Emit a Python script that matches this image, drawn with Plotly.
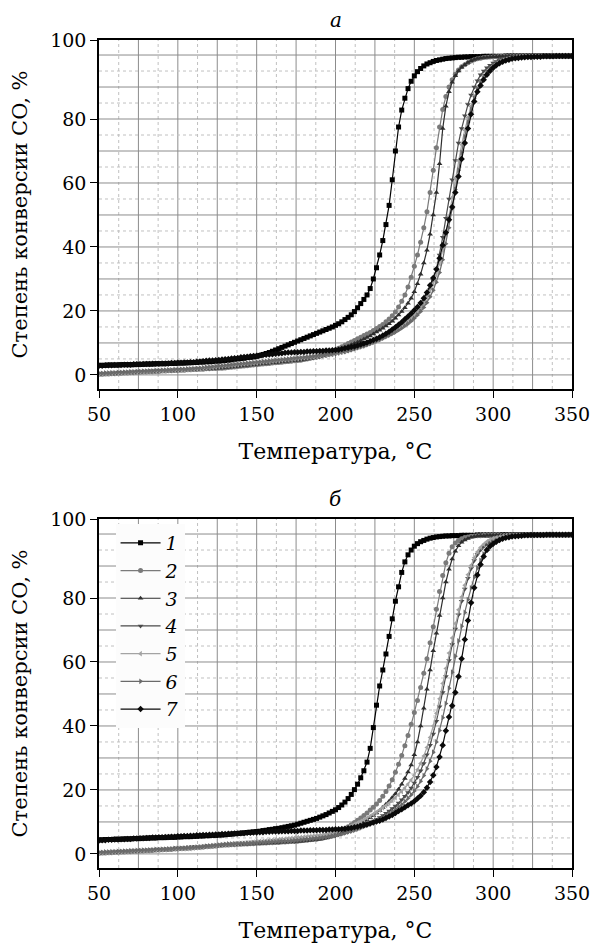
import plotly.graph_objects as go

# ---------------- data ----------------
temperature = list(range(50, 351, 2))  # °C, 151 points
series_labels = ["1", "2", "3", "4", "5", "6", "7"]

# ---- panel а ----
a1 = [3.0,3.0,3.0,3.1,3.1,3.1,3.1,3.2,3.2,3.2,
      3.2,3.2,3.3,3.3,3.3,3.4,3.4,3.4,3.5,3.5,
      3.5,3.5,3.6,3.6,3.6,3.7,3.7,3.7,3.8,3.8,
      3.9,3.9,4.0,4.0,4.1,4.1,4.2,4.3,4.3,4.4,
      4.5,4.6,4.7,4.9,5.0,5.1,5.2,5.4,5.5,5.6,
      5.8,6.1,6.4,6.7,7.0,7.4,7.8,8.2,8.6,9.0,
      9.4,9.8,10.2,10.6,11.0,11.4,11.8,12.2,12.6,13.0,
      13.4,13.8,14.2,14.6,15.0,15.5,16.0,16.6,17.3,18.0,
      18.8,19.8,21.0,22.3,23.6,25.0,27.0,30.0,33.5,37.5,
      42.0,47.0,53.0,61.0,70.0,77.5,82.8,86.5,89.5,91.8,
      93.5,94.8,95.8,96.6,97.2,97.6,98.0,98.3,98.5,98.7,
      98.9,99.0,99.1,99.2,99.3,99.3,99.4,99.4,99.5,99.5,
      99.5,99.5,99.6,99.6,99.6,99.6,99.6,99.6,99.6,99.7,
      99.7,99.7,99.7,99.7,99.7,99.7,99.7,99.7,99.7,99.7,
      99.7,99.7,99.7,99.7,99.7,99.7,99.7,99.7,99.7,99.7,
      99.7]
a2 = [0.2,0.2,0.3,0.3,0.4,0.4,0.5,0.5,0.6,0.6,
      0.7,0.7,0.8,0.8,0.9,0.9,1.0,1.0,1.1,1.1,
      1.2,1.2,1.3,1.3,1.4,1.4,1.5,1.5,1.6,1.6,
      1.7,1.7,1.8,1.8,1.9,1.9,2.0,2.0,2.1,2.1,
      2.2,2.3,2.4,2.5,2.6,2.7,2.8,2.9,3.0,3.1,
      3.2,3.3,3.4,3.5,3.6,3.7,3.8,3.9,4.0,4.1,
      4.2,4.3,4.4,4.5,4.6,4.8,5.0,5.2,5.4,5.6,
      5.9,6.2,6.5,6.9,7.3,7.8,8.3,8.8,9.3,9.8,
      10.3,10.8,11.3,11.8,12.3,12.8,13.3,13.9,14.5,15.1,
      15.8,16.6,17.5,18.5,19.7,21.2,23.0,25.0,27.5,30.5,
      34.0,37.5,41.5,46.0,51.0,57.0,64.0,71.0,77.5,83.0,
      87.0,90.0,92.3,94.0,95.3,96.3,97.0,97.6,98.1,98.5,
      98.8,99.0,99.2,99.3,99.4,99.5,99.5,99.6,99.6,99.6,
      99.6,99.6,99.7,99.7,99.7,99.7,99.7,99.7,99.7,99.7,
      99.7,99.7,99.7,99.7,99.7,99.7,99.7,99.7,99.7,99.7,
      99.7]
a3 = [0.3,0.3,0.4,0.4,0.5,0.5,0.6,0.6,0.7,0.7,
      0.8,0.8,0.9,0.9,1.0,1.0,1.1,1.1,1.2,1.2,
      1.3,1.3,1.4,1.4,1.5,1.5,1.6,1.6,1.7,1.7,
      1.8,1.8,1.9,1.9,2.0,2.0,2.1,2.1,2.2,2.2,
      2.3,2.4,2.5,2.6,2.7,2.8,2.9,3.0,3.1,3.2,
      3.3,3.4,3.5,3.6,3.7,3.8,3.9,4.0,4.1,4.2,
      4.3,4.4,4.5,4.6,4.7,4.8,5.0,5.2,5.4,5.6,
      5.8,6.1,6.4,6.7,7.0,7.4,7.8,8.2,8.6,9.0,
      9.4,9.8,10.2,10.7,11.2,11.7,12.2,12.8,13.4,14.0,
      14.6,15.3,16.0,16.8,17.7,18.7,19.8,21.0,22.4,24.0,
      26.0,28.5,31.5,35.0,39.0,44.0,50.0,57.0,66.0,77.0,
      84.0,88.5,91.5,93.5,95.0,96.2,97.0,97.7,98.2,98.6,
      98.9,99.1,99.2,99.3,99.4,99.5,99.5,99.6,99.6,99.6,
      99.7,99.7,99.7,99.7,99.7,99.7,99.7,99.7,99.7,99.7,
      99.7,99.7,99.7,99.7,99.7,99.7,99.7,99.7,99.7,99.7,
      99.7]
a4 = [0.4,0.4,0.5,0.5,0.6,0.6,0.7,0.7,0.8,0.8,
      0.9,0.9,1.0,1.0,1.1,1.1,1.2,1.2,1.3,1.3,
      1.4,1.4,1.5,1.5,1.6,1.6,1.7,1.7,1.8,1.8,
      1.9,1.9,2.0,2.0,2.1,2.1,2.2,2.3,2.4,2.5,
      2.6,2.7,2.8,2.9,3.0,3.1,3.2,3.3,3.4,3.5,
      3.6,3.7,3.8,3.9,4.0,4.1,4.2,4.3,4.4,4.5,
      4.6,4.7,4.8,4.9,5.0,5.1,5.2,5.3,5.4,5.5,
      5.6,5.8,6.0,6.2,6.4,6.6,6.8,7.0,7.2,7.5,
      7.8,8.1,8.4,8.7,9.0,9.4,9.8,10.2,10.6,11.0,
      11.5,12.0,12.5,13.0,13.6,14.2,14.9,15.7,16.5,17.4,
      18.4,19.6,21.0,22.6,24.5,26.8,29.5,33.0,37.5,43.0,
      49.0,55.0,61.0,67.0,72.5,77.0,81.0,84.5,87.5,90.0,
      92.0,93.8,95.0,96.0,96.8,97.5,98.0,98.4,98.7,98.9,
      99.1,99.2,99.3,99.4,99.5,99.5,99.5,99.6,99.6,99.6,
      99.6,99.6,99.7,99.7,99.7,99.7,99.7,99.7,99.7,99.7,
      99.7]
a5 = [0.3,0.3,0.4,0.4,0.5,0.5,0.6,0.6,0.7,0.7,
      0.8,0.8,0.9,0.9,1.0,1.0,1.1,1.1,1.2,1.2,
      1.3,1.3,1.4,1.4,1.5,1.5,1.6,1.6,1.7,1.7,
      1.8,1.9,2.0,2.1,2.2,2.3,2.4,2.5,2.6,2.7,
      2.8,2.9,3.0,3.1,3.2,3.3,3.4,3.5,3.6,3.7,
      3.8,3.9,4.0,4.1,4.2,4.3,4.4,4.5,4.6,4.7,
      4.8,4.9,5.0,5.1,5.2,5.3,5.4,5.5,5.6,5.7,
      5.8,6.0,6.2,6.4,6.6,6.8,7.0,7.2,7.5,7.8,
      8.1,8.4,8.7,9.0,9.3,9.7,10.1,10.5,10.9,11.3,
      11.8,12.3,12.8,13.3,13.9,14.5,15.2,16.0,16.8,17.7,
      18.7,19.8,21.1,22.5,24.2,26.2,28.5,31.3,34.8,39.0,
      44.0,49.5,55.5,61.5,67.0,72.0,76.5,80.5,84.0,87.0,
      89.5,91.5,93.2,94.6,95.7,96.6,97.3,97.9,98.3,98.6,
      98.9,99.1,99.2,99.3,99.4,99.5,99.5,99.5,99.6,99.6,
      99.6,99.6,99.6,99.7,99.7,99.7,99.7,99.7,99.7,99.7,
      99.7]
a6 = [0.5,0.5,0.6,0.6,0.7,0.7,0.8,0.8,0.9,0.9,
      1.0,1.0,1.1,1.1,1.2,1.2,1.3,1.3,1.4,1.4,
      1.5,1.5,1.6,1.6,1.7,1.7,1.8,1.8,1.9,1.9,
      2.0,2.1,2.2,2.3,2.4,2.5,2.6,2.7,2.8,2.9,
      3.0,3.1,3.2,3.3,3.4,3.5,3.6,3.7,3.8,3.9,
      4.0,4.1,4.2,4.3,4.4,4.5,4.6,4.7,4.8,4.9,
      5.0,5.1,5.2,5.3,5.4,5.5,5.6,5.7,5.8,5.9,
      6.0,6.1,6.3,6.5,6.7,6.9,7.1,7.3,7.5,7.7,
      7.9,8.2,8.5,8.8,9.1,9.4,9.8,10.2,10.6,11.0,
      11.4,11.9,12.4,12.9,13.4,14.0,14.6,15.3,16.0,16.8,
      17.7,18.7,19.8,21.1,22.6,24.4,26.5,29.0,32.0,36.0,
      41.0,46.0,52.0,58.0,64.0,69.5,74.5,79.0,83.0,86.5,
      89.5,91.8,93.5,94.8,95.8,96.6,97.3,97.9,98.3,98.6,
      98.8,99.0,99.2,99.3,99.4,99.4,99.5,99.5,99.6,99.6,
      99.6,99.6,99.6,99.7,99.7,99.7,99.7,99.7,99.7,99.7,
      99.7]
a7 = [2.9,2.9,3.0,3.0,3.0,3.1,3.1,3.1,3.2,3.2,
      3.2,3.3,3.3,3.3,3.4,3.4,3.4,3.5,3.5,3.5,
      3.6,3.6,3.6,3.7,3.7,3.8,3.8,3.9,3.9,4.0,
      4.0,4.1,4.2,4.3,4.4,4.5,4.5,4.6,4.7,4.8,
      4.9,5.0,5.1,5.2,5.3,5.5,5.6,5.7,5.8,5.9,
      6.0,6.1,6.2,6.3,6.4,6.5,6.6,6.7,6.8,6.9,
      7.0,7.0,7.1,7.1,7.2,7.2,7.3,7.3,7.4,7.4,
      7.5,7.5,7.6,7.6,7.7,7.8,7.9,8.1,8.3,8.5,
      8.7,8.9,9.2,9.5,9.8,10.1,10.5,10.9,11.3,11.8,
      12.3,12.9,13.5,14.2,14.9,15.7,16.5,17.4,18.3,19.2,
      20.2,21.2,22.5,24.0,25.8,28.0,30.3,33.0,36.5,40.5,
      44.5,48.5,52.5,57.0,62.0,67.5,72.5,77.0,81.5,85.5,
      88.5,90.5,92.3,93.8,95.0,96.0,96.8,97.4,97.9,98.3,
      98.5,98.8,99.0,99.1,99.2,99.3,99.4,99.4,99.5,99.5,
      99.5,99.6,99.6,99.6,99.6,99.7,99.7,99.7,99.7,99.7,
      99.7]

# ---- panel б ----
b1 = [4.4,4.4,4.5,4.5,4.5,4.6,4.6,4.6,4.7,4.7,
      4.7,4.8,4.8,4.8,4.9,4.9,5.0,5.0,5.0,5.1,
      5.1,5.1,5.2,5.2,5.2,5.3,5.3,5.4,5.4,5.4,
      5.5,5.5,5.6,5.6,5.7,5.7,5.8,5.8,5.9,5.9,
      6.0,6.1,6.2,6.3,6.4,6.5,6.6,6.7,6.8,6.9,
      7.0,7.1,7.3,7.4,7.6,7.7,7.9,8.0,8.2,8.4,
      8.6,8.8,9.0,9.3,9.6,9.9,10.2,10.5,10.8,11.1,
      11.5,11.9,12.3,12.8,13.3,13.8,14.5,15.3,16.2,17.3,
      18.6,20.1,21.8,23.8,26.0,28.7,33.0,39.5,46.5,52.5,
      57.5,62.5,68.0,73.5,79.0,83.5,88.0,91.3,93.5,95.0,
      96.2,97.0,97.6,98.0,98.4,98.7,98.9,99.1,99.2,99.3,
      99.4,99.4,99.5,99.5,99.5,99.6,99.6,99.6,99.6,99.6,
      99.7,99.7,99.7,99.7,99.7,99.7,99.7,99.7,99.8,99.8,
      99.8,99.8,99.8,99.8,99.8,99.8,99.8,99.8,99.8,99.8,
      99.8,99.8,99.8,99.8,99.8,99.8,99.8,99.8,99.8,99.8,
      99.8]
b2 = [0.2,0.3,0.3,0.4,0.4,0.5,0.5,0.6,0.6,0.7,
      0.7,0.8,0.8,0.9,0.9,1.0,1.0,1.1,1.2,1.2,
      1.3,1.4,1.4,1.5,1.6,1.6,1.7,1.8,1.8,1.9,
      2.0,2.0,2.1,2.2,2.3,2.3,2.4,2.5,2.6,2.7,
      2.8,2.8,2.9,2.9,3.0,3.0,3.1,3.1,3.2,3.2,
      3.3,3.3,3.4,3.4,3.5,3.5,3.6,3.6,3.7,3.7,
      3.8,3.9,3.9,4.0,4.1,4.2,4.3,4.4,4.5,4.6,
      4.8,5.0,5.3,5.6,6.0,6.4,6.9,7.4,7.9,8.5,
      9.1,9.8,10.5,11.2,12.0,12.8,13.7,14.6,15.6,16.7,
      18.0,19.5,21.2,23.2,25.5,28.0,30.8,33.8,37.0,40.5,
      44.2,48.0,52.0,56.5,61.0,66.0,71.0,76.5,82.0,87.0,
      91.0,94.0,96.0,97.2,98.0,98.5,98.9,99.1,99.3,99.4,
      99.5,99.5,99.6,99.6,99.6,99.7,99.7,99.7,99.7,99.7,
      99.8,99.8,99.8,99.8,99.8,99.8,99.8,99.8,99.8,99.8,
      99.8,99.8,99.8,99.8,99.8,99.8,99.8,99.8,99.8,99.8,
      99.8]
b3 = [0.3,0.3,0.4,0.4,0.5,0.5,0.6,0.6,0.7,0.7,
      0.8,0.8,0.9,0.9,1.0,1.0,1.1,1.2,1.2,1.3,
      1.3,1.4,1.5,1.5,1.6,1.7,1.7,1.8,1.9,1.9,
      2.0,2.1,2.2,2.2,2.3,2.4,2.5,2.5,2.6,2.7,
      2.8,2.8,2.9,2.9,3.0,3.0,3.1,3.1,3.2,3.2,
      3.3,3.3,3.4,3.4,3.5,3.5,3.6,3.6,3.7,3.7,
      3.8,3.8,3.9,4.0,4.0,4.1,4.2,4.3,4.4,4.5,
      4.6,4.8,5.0,5.2,5.5,5.8,6.1,6.5,6.9,7.3,
      7.8,8.3,8.8,9.4,10.0,10.6,11.3,12.0,12.8,13.6,
      14.5,15.5,16.5,17.6,18.8,20.2,21.8,23.6,25.6,27.8,
      31.0,35.0,40.0,45.5,51.5,57.5,63.5,69.0,74.5,80.0,
      85.0,89.0,92.2,94.6,96.3,97.4,98.1,98.6,99.0,99.2,
      99.4,99.5,99.5,99.6,99.6,99.6,99.7,99.7,99.7,99.7,
      99.8,99.8,99.8,99.8,99.8,99.8,99.8,99.8,99.8,99.8,
      99.8,99.8,99.8,99.8,99.8,99.8,99.8,99.8,99.8,99.8,
      99.8]
b4 = [0.4,0.4,0.5,0.5,0.6,0.6,0.7,0.7,0.8,0.8,
      0.9,0.9,1.0,1.0,1.1,1.1,1.2,1.2,1.3,1.3,
      1.4,1.4,1.5,1.5,1.6,1.6,1.7,1.7,1.8,1.8,
      1.9,2.0,2.1,2.2,2.3,2.4,2.5,2.6,2.7,2.8,
      2.9,3.0,3.0,3.1,3.1,3.2,3.2,3.3,3.3,3.4,
      3.4,3.5,3.5,3.6,3.6,3.7,3.7,3.8,3.8,3.9,
      3.9,4.0,4.0,4.1,4.2,4.3,4.4,4.5,4.6,4.7,
      4.8,4.9,5.1,5.3,5.5,5.7,6.0,6.3,6.6,6.9,
      7.2,7.6,8.0,8.4,8.8,9.3,9.8,10.3,10.8,11.4,
      12.0,12.7,13.4,14.2,15.0,15.9,16.9,18.0,19.2,20.6,
      22.2,24.0,26.0,28.3,31.0,34.0,37.5,41.5,46.0,50.5,
      55.5,60.5,65.5,70.3,74.8,79.0,82.8,86.2,89.2,91.7,
      93.6,95.0,96.1,96.9,97.6,98.1,98.5,98.8,99.0,99.2,
      99.3,99.4,99.5,99.5,99.6,99.6,99.6,99.7,99.7,99.7,
      99.7,99.7,99.8,99.8,99.8,99.8,99.8,99.8,99.8,99.8,
      99.8]
b5 = [0.3,0.3,0.4,0.4,0.5,0.5,0.6,0.6,0.7,0.7,
      0.8,0.8,0.9,0.9,1.0,1.0,1.1,1.1,1.2,1.2,
      1.3,1.3,1.4,1.4,1.5,1.5,1.6,1.6,1.7,1.7,
      1.8,1.9,2.0,2.1,2.2,2.3,2.4,2.5,2.6,2.7,
      2.8,2.9,3.0,3.1,3.2,3.3,3.4,3.5,3.6,3.7,
      3.8,3.9,4.0,4.1,4.2,4.3,4.4,4.5,4.6,4.7,
      4.8,4.9,5.0,5.1,5.2,5.3,5.4,5.5,5.6,5.7,
      5.8,6.0,6.2,6.4,6.7,7.0,7.3,7.6,8.0,8.4,
      8.8,9.2,9.7,10.2,10.7,11.2,11.8,12.4,13.0,13.7,
      14.4,15.1,15.9,16.7,17.6,18.5,19.5,20.6,21.8,23.1,
      24.6,26.3,28.3,30.6,33.3,36.4,40.0,44.0,48.5,53.3,
      58.0,62.8,67.5,72.0,76.3,80.3,84.0,87.3,90.2,92.6,
      94.4,95.8,96.8,97.6,98.2,98.6,98.9,99.1,99.3,99.4,
      99.5,99.5,99.6,99.6,99.6,99.7,99.7,99.7,99.7,99.7,
      99.8,99.8,99.8,99.8,99.8,99.8,99.8,99.8,99.8,99.8,
      99.8]
b6 = [0.5,0.5,0.6,0.6,0.7,0.7,0.8,0.8,0.9,0.9,
      1.0,1.0,1.1,1.1,1.2,1.2,1.3,1.3,1.4,1.4,
      1.5,1.5,1.6,1.6,1.7,1.7,1.8,1.8,1.9,1.9,
      2.0,2.1,2.2,2.3,2.4,2.5,2.6,2.7,2.8,2.9,
      3.0,3.1,3.1,3.2,3.2,3.3,3.3,3.4,3.4,3.5,
      3.5,3.6,3.6,3.7,3.7,3.8,3.8,3.9,3.9,4.0,
      4.0,4.1,4.2,4.3,4.4,4.5,4.6,4.7,4.8,4.9,
      5.0,5.1,5.2,5.4,5.6,5.8,6.0,6.2,6.5,6.8,
      7.1,7.4,7.7,8.1,8.5,8.9,9.3,9.8,10.3,10.8,
      11.3,11.9,12.5,13.2,13.9,14.7,15.5,16.4,17.4,18.5,
      19.7,21.1,22.7,24.5,26.6,29.0,31.8,35.0,38.6,42.6,
      47.0,51.8,56.8,61.8,66.6,71.2,75.5,79.5,83.2,86.5,
      89.4,91.8,93.8,95.3,96.5,97.4,98.0,98.5,98.8,99.1,
      99.3,99.4,99.5,99.5,99.6,99.6,99.7,99.7,99.7,99.7,
      99.8,99.8,99.8,99.8,99.8,99.8,99.8,99.8,99.8,99.8,
      99.8]
b7 = [4.2,4.3,4.3,4.4,4.4,4.5,4.5,4.6,4.6,4.7,
      4.7,4.8,4.8,4.9,4.9,5.0,5.0,5.1,5.1,5.2,
      5.2,5.3,5.3,5.4,5.4,5.5,5.5,5.6,5.6,5.7,
      5.7,5.8,5.8,5.9,5.9,6.0,6.0,6.1,6.1,6.2,
      6.2,6.3,6.3,6.4,6.4,6.5,6.5,6.6,6.6,6.7,
      6.7,6.8,6.8,6.9,6.9,7.0,7.0,7.0,7.1,7.1,
      7.1,7.2,7.2,7.2,7.3,7.3,7.3,7.4,7.4,7.4,
      7.5,7.5,7.5,7.6,7.6,7.7,7.7,7.8,7.9,8.0,
      8.1,8.3,8.5,8.7,9.0,9.2,9.5,9.8,10.1,10.4,
      10.8,11.2,11.7,12.2,12.8,13.4,14.0,14.6,15.2,15.8,
      16.5,17.3,18.2,19.3,20.7,22.5,24.6,27.2,30.3,34.0,
      38.5,42.8,46.3,50.5,55.5,61.0,67.0,73.0,78.5,83.2,
      87.2,90.5,93.0,95.0,96.2,97.0,97.6,98.1,98.5,98.8,
      99.0,99.2,99.3,99.4,99.5,99.6,99.6,99.7,99.7,99.7,
      99.7,99.7,99.8,99.8,99.8,99.8,99.8,99.8,99.8,99.8,
      99.8]

panel_a = [a1, a2, a3, a4, a5, a6, a7]
panel_b = [b1, b2, b3, b4, b5, b6, b7]
for s in panel_a + panel_b:
    assert len(s) == len(temperature), len(s)

x_ticks = [50, 100, 150, 200, 250, 300, 350]
y_tick_text = ["0", "20", "40", "60", "80", "100"]
panel_titles = ["а", "б"]

# ---------------- styling ----------------
colors = ["#000000", "#7a7a7a", "#2e2e2e", "#4a4a4a", "#a3a3a3", "#6a6a6a", "#0a0a0a"]
symbols = ["square", "circle", "triangle-up", "triangle-down", "triangle-left", "triangle-right", "diamond"]
FONT = "DejaVu Serif"
Y_LO, Y_HI = -4.4, 104.7

fig = go.Figure()
for p, data in enumerate([panel_a, panel_b]):
    xr = "x" if p == 0 else "x2"
    yr = "y" if p == 0 else "y2"
    for i, ys in enumerate(data):
        fig.add_trace(go.Scatter(
            x=temperature, y=ys, mode="lines+markers",
            name="<i>%s</i>" % series_labels[i],
            line=dict(color=colors[i], width=1.2),
            marker=dict(symbol=symbols[i], size=5, color=colors[i]),
            xaxis=xr, yaxis=yr, showlegend=(p == 1),
        ))

# grid lines (major every 25 °C / 10 %, minor dotted in between)
shapes = []
for p in range(2):
    xr = "x" if p == 0 else "x2"
    yr = "y" if p == 0 else "y2"
    for k in range(24):
        v = 50 + 12.5 * k
        if v <= 50 or v >= 350:
            continue
        major = (k % 2 == 0)
        shapes.append(dict(type="line", xref=xr, yref=yr + " domain", x0=v, x1=v, y0=0, y1=1,
                           layer="below",
                           line=dict(color="#8c8c8c" if major else "#c0c0c0", width=1,
                                     dash="solid" if major else "dot")))
    for k in range(21):
        v = 5 * k
        major = (k % 2 == 0)
        shapes.append(dict(type="line", xref=xr + " domain", yref=yr, x0=0, x1=1, y0=v, y1=v,
                           layer="below",
                           line=dict(color="#8c8c8c" if major else "#c0c0c0", width=1,
                                     dash="solid" if major else "dot")))

axis_common = dict(showline=True, mirror=True, linecolor="black", linewidth=1.5,
                   ticks="outside", ticklen=7, tickcolor="black", tickwidth=1.2,
                   showgrid=False, zeroline=False, automargin=False,
                   tickfont=dict(family=FONT, size=19, color="black"))

xa = dict(range=[50, 350], tickvals=x_ticks,
          title=dict(text="Температура, °C", font=dict(family=FONT, size=22, color="black"), standoff=20),
          **axis_common)
ya = dict(range=[Y_LO, Y_HI], tickvals=[0, 20, 40, 60, 80, Y_HI], ticktext=y_tick_text,
          title=dict(text="Степень конверсии CO, %", font=dict(family=FONT, size=21, color="black"), standoff=17),
          **axis_common)

PLOT_H = 828
top_dom = [(828 - 349) / PLOT_H, 1.0]
bot_dom = [0.0, 349 / PLOT_H]

fig.update_layout(
    width=592, height=945,
    margin=dict(l=99, r=20, t=40, b=77),
    paper_bgcolor="white", plot_bgcolor="white",
    xaxis=dict(domain=[0, 1], anchor="y", **xa),
    yaxis=dict(domain=top_dom, anchor="x", **ya),
    xaxis2=dict(domain=[0, 1], anchor="y2", **xa),
    yaxis2=dict(domain=bot_dom, anchor="x2", **ya),
    shapes=shapes,
    legend=dict(x=0.035, y=(349 - 5) / PLOT_H, xanchor="left", yanchor="top",
                bgcolor="rgba(252,252,252,1)", borderwidth=0,
                font=dict(family=FONT, size=19, color="black"),
                itemwidth=40, tracegroupgap=0),
    annotations=[
        dict(text="<i>%s</i>" % panel_titles[0], xref="paper", yref="paper", x=0.5,
             y=1 + 20 / PLOT_H, yanchor="middle", showarrow=False,
             font=dict(family=FONT, size=20, color="black")),
        dict(text="<i>%s</i>" % panel_titles[1], xref="paper", yref="paper", x=0.5,
             y=(349 + 20) / PLOT_H, yanchor="middle", showarrow=False,
             font=dict(family=FONT, size=20, color="black")),
    ],
)

# remove the default 8 px page margin so the 592x945 figure fills the window exactly
fig.write_html("out.html", config={"displayModeBar": False},
               post_script="document.body.style.margin='0px';document.body.style.overflow='hidden';")
